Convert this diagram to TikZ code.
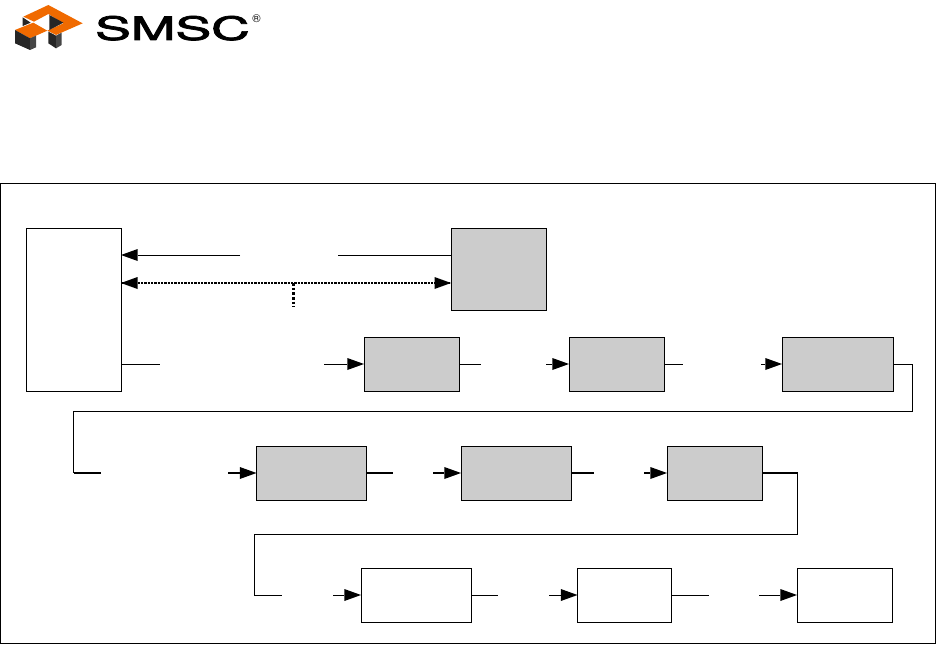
\documentclass[tikz,border=0pt]{standalone}
\usepackage{fontspec}
\setmainfont{TeX Gyre Heros}
\newfontfamily\logofont[FakeBold=2.2]{TeX Gyre Heros}
\usetikzlibrary{arrows.meta}
\definecolor{smscorange}{RGB}{240,106,0}
\definecolor{smscdark}{RGB}{38,38,38}
\definecolor{smscside}{RGB}{70,70,70}
\definecolor{boxgray}{RGB}{204,204,204}
\tikzset{
  blockbox/.style={draw=black,line width=0.75pt,inner sep=0pt,outer sep=0pt,fill=white},
  grayblock/.style={blockbox,fill=boxgray},
  wire/.style={line width=0.75pt,draw=black},
  heavywire/.style={line width=1.3pt,draw=black},
  arrowwire/.style={wire,-{Triangle[length=12.5pt,width=9pt,line width=0pt]}},
  heavyarrow/.style={heavywire,-{Triangle[length=12.5pt,width=9pt,line width=0pt]}},
  dotwire/.style={line width=0.8pt,draw=black,dash pattern=on 1.8pt off 0.7pt},
  stemwire/.style={line width=2pt,draw=black,dash pattern=on 2pt off 1.5pt},
  logoorange/.style={fill=smscorange,draw=none},
  logodark/.style={fill=smscdark,draw=none},
  logoside/.style={fill=smscside,draw=none},
}
% box: name, style, x0, y0, x1, y1 in reference pixels
\newcommand{\blockat}[6]{%
  \pgfmathsetmacro{\bw}{(#5-#3)*0.75}%
  \pgfmathsetmacro{\bh}{(#6-#4)*0.75}%
  \node[#2,minimum width=\bw pt,minimum height=\bh pt] (#1) at ({(#3+#5)/2},{(#4+#6)/2}) {};}
\begin{document}
\begin{tikzpicture}[x=0.75pt,y=-0.75pt]
\useasboundingbox (0,0) rectangle (937,645);
% frame
\node[draw=black,line width=0.75pt,inner sep=0pt,outer sep=0pt,minimum width=701.5pt,minimum height=345pt] (frame) at (468.2,413.4) {};
% logo
\begin{scope}[shift={(10,0)},x=0.25pt,y=-0.25pt]
  \fill[logoorange] (40,50) -- (115,15) -- (218,70) -- (138,105) -- (112,92) -- (160,70) -- (115,42) -- (72,65) -- cycle;
  \fill[logoorange] (15,90) -- (70,68) -- (112,92) -- (60,115) -- cycle;
  \fill[logodark] (38,52) -- (62,68) -- (38,78) -- cycle;
  \fill[logodark] (118,45) -- (160,68) -- (118,90) -- cycle;
  \fill[logodark] (15,90) -- (60,115) -- (60,150) -- (15,130) -- cycle;
  \fill[logoside] (60,115) -- (78,107) -- (78,142) -- (60,150) -- cycle;
  \fill[logodark] (115,95) -- (138,107) -- (138,145) -- (115,130) -- cycle;
  \fill[logoside] (138,107) -- (155,98) -- (155,135) -- (138,145) -- cycle;
\end{scope}
\node[inner sep=0pt,outer sep=0pt] (wordmark) at (172.5,28.2) {\resizebox{116pt}{18pt}{\logofont SMSC}};
\node[inner sep=0pt,outer sep=0pt,font=\fontsize{8.5pt}{8.5pt}\selectfont] (reg) at (256.5,19) {®};
% blocks
\blockat{A}{blockbox}{26}{228}{121}{391}
\blockat{B}{grayblock}{451}{228}{546}{310}
\blockat{C}{grayblock}{364}{337}{459}{391}
\blockat{D}{grayblock}{569}{337}{664}{391}
\blockat{E}{grayblock}{782}{337}{893}{391}
\blockat{F}{grayblock}{256.5}{446}{366.5}{500}
\blockat{G}{grayblock}{461}{446}{571}{500}
\blockat{H}{grayblock}{667}{446}{762.5}{500}
\blockat{I}{blockbox}{361}{568}{471.5}{622}
\blockat{J}{blockbox}{577.5}{568}{671.5}{622}
\blockat{K}{blockbox}{797}{568}{892.5}{622}
% free wire ends
\coordinate (ba) at (240,255);
\coordinate (bb) at (338,255);
\coordinate (stem0) at (293.5,283);
\coordinate (stem1) at (293.5,307);
\coordinate (ac0) at (160,364);
\coordinate (ac1) at (324,364);
\coordinate (cd0) at (481,364);
\coordinate (cd1) at (546,364);
\coordinate (de0) at (683,364);
\coordinate (de1) at (761,364);
\coordinate (e1) at (912.5,364);
\coordinate (e2) at (912.5,411);
\coordinate (e3) at (73.5,411);
\coordinate (e4) at (73.5,473);
\coordinate (ef0) at (101,473);
\coordinate (ef1) at (228,473);
\coordinate (fg0) at (393,473);
\coordinate (fg1) at (433,473);
\coordinate (gh0) at (594,473);
\coordinate (gh1) at (644,473);
\coordinate (h1) at (797.5,473);
\coordinate (h2) at (797.5,534);
\coordinate (h3) at (254.5,534);
\coordinate (h4) at (254.5,595);
\coordinate (hi0) at (282,595);
\coordinate (hi1) at (333,595);
\coordinate (ij0) at (498,595);
\coordinate (ij1) at (549,595);
\coordinate (jk0) at (709,595);
\coordinate (jk1) at (759,595);
% top connectors
\draw[wire] (B.west |- bb) -- (bb);
\draw[arrowwire] (ba) -- (A.east |- ba);
\draw[dotwire] (A.east |- stem0) -- (B.west |- stem0);
\draw[stemwire] (stem0) -- (stem1);
\fill[black] (A.east |- stem0) -- ++(16.5,-6) -- ++(0,12) -- cycle;
\fill[black] (B.west |- stem0) -- ++(-16.5,-6) -- ++(0,12) -- cycle;
% row 1
\draw[wire] (A.east |- ac0) -- (ac0);
\draw[arrowwire] (ac1) -- (C.west);
\draw[wire] (C.east) -- (cd0);
\draw[arrowwire] (cd1) -- (D.west);
\draw[wire] (D.east) -- (de0);
\draw[arrowwire] (de1) -- (E.west);
% wrap to row 2
\draw[wire] (E.east) -- (e1) -- (e2) -- (e3) -- (e4);
\draw[heavywire] (e4) -- (ef0);
\draw[heavyarrow] (ef1) -- (F.west);
\draw[heavywire] (F.east) -- (fg0);
\draw[heavyarrow] (fg1) -- (G.west);
\draw[heavywire] (G.east) -- (gh0);
\draw[heavyarrow] (gh1) -- (H.west);
\draw[heavywire] (H.east) -- (h1);
% wrap to row 3
\draw[wire] (h1) -- (h2) -- (h3) -- (h4) -- (hi0);
\draw[arrowwire] (hi1) -- (I.west);
\draw[wire] (I.east) -- (ij0);
\draw[arrowwire] (ij1) -- (J.west);
\draw[wire] (J.east) -- (jk0);
\draw[arrowwire] (jk1) -- (K.west);
\end{tikzpicture}
\end{document}
